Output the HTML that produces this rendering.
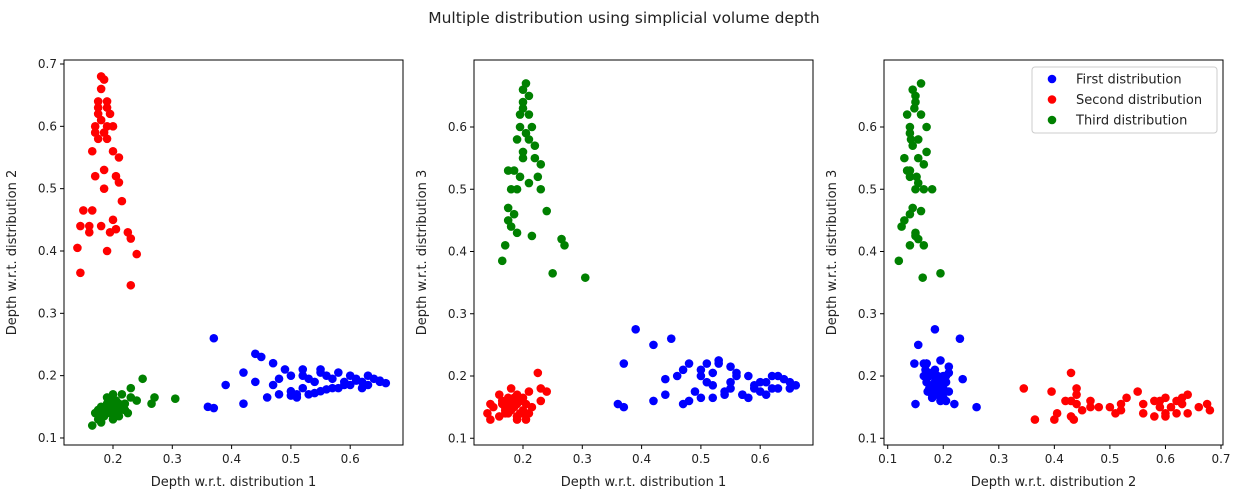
<!DOCTYPE html>
<html><head><meta charset="utf-8"><style>
body{margin:0;background:#fff;font-family:"Liberation Sans","DejaVu Sans",sans-serif}
svg text{font-family:"DejaVu Sans","Liberation Sans",sans-serif;fill:#222}
</style></head><body>
<svg id="c" width="1241" height="498">
<text x="624" y="23" text-anchor="middle" font-size="15.5">Multiple distribution using simplicial volume depth</text>
</svg>
<script>
const blueD1=[0.37,0.36,0.37,0.39,0.42,0.42,0.44,0.45,0.44,0.46,0.47,0.48,0.49,0.5,0.51,0.52,0.53,0.54,0.55,0.55,0.56,0.57,0.58,0.59,0.6,0.61,0.62,0.63,0.64,0.65,0.66,0.5,0.52,0.53,0.57,0.48,0.47,0.6,0.62,0.58,0.51,0.54,0.56,0.59,0.61,0.63,0.65,0.5,0.52,0.55];
const blueD2=[0.26,0.15,0.148,0.185,0.205,0.155,0.235,0.23,0.19,0.165,0.22,0.17,0.21,0.2,0.165,0.21,0.17,0.19,0.21,0.175,0.2,0.18,0.205,0.185,0.2,0.195,0.19,0.2,0.195,0.19,0.188,0.175,0.18,0.195,0.195,0.195,0.185,0.185,0.18,0.18,0.17,0.172,0.178,0.19,0.192,0.185,0.192,0.168,0.2,0.205];
const blueD3=[0.15,0.155,0.22,0.275,0.16,0.25,0.195,0.26,0.17,0.2,0.155,0.22,0.175,0.165,0.22,0.205,0.22,0.17,0.215,0.18,0.2,0.17,0.2,0.18,0.175,0.19,0.2,0.18,0.195,0.19,0.185,0.2,0.185,0.225,0.17,0.16,0.21,0.19,0.18,0.165,0.19,0.175,0.205,0.185,0.17,0.2,0.18,0.21,0.165,0.19];
const redD1=[0.145,0.14,0.145,0.15,0.16,0.165,0.17,0.165,0.17,0.175,0.18,0.18,0.185,0.19,0.19,0.185,0.18,0.195,0.2,0.205,0.2,0.195,0.175,0.21,0.205,0.215,0.225,0.23,0.24,0.23,0.17,0.19,0.2,0.185,0.175,0.21,0.16,0.19,0.18,0.19,0.175,0.185];
const redD2=[0.365,0.405,0.44,0.465,0.43,0.465,0.52,0.56,0.6,0.62,0.66,0.68,0.675,0.64,0.58,0.5,0.44,0.43,0.45,0.52,0.6,0.62,0.63,0.55,0.435,0.48,0.43,0.42,0.395,0.345,0.59,0.6,0.56,0.53,0.58,0.51,0.44,0.4,0.61,0.63,0.64,0.59];
const redD3=[0.13,0.14,0.155,0.15,0.135,0.16,0.145,0.155,0.14,0.16,0.15,0.145,0.155,0.17,0.135,0.15,0.18,0.16,0.145,0.155,0.165,0.14,0.165,0.175,0.13,0.15,0.205,0.16,0.175,0.18,0.15,0.135,0.14,0.165,0.16,0.14,0.17,0.13,0.15,0.155,0.14,0.16];
const greenD1=[0.165,0.17,0.175,0.18,0.175,0.185,0.19,0.195,0.2,0.2,0.205,0.21,0.21,0.215,0.22,0.22,0.23,0.225,0.23,0.215,0.24,0.25,0.265,0.27,0.305,0.19,0.2,0.185,0.18,0.195,0.205,0.21,0.19,0.175,0.2,0.2,0.21,0.195];
const greenD2=[0.12,0.14,0.13,0.15,0.145,0.135,0.155,0.14,0.15,0.145,0.16,0.15,0.135,0.17,0.145,0.155,0.165,0.14,0.18,0.15,0.16,0.195,0.155,0.165,0.163,0.165,0.13,0.14,0.125,0.16,0.14,0.155,0.15,0.14,0.17,0.148,0.142,0.152];
const greenD3=[0.385,0.41,0.45,0.5,0.47,0.53,0.58,0.6,0.64,0.66,0.67,0.65,0.62,0.6,0.57,0.55,0.54,0.52,0.5,0.425,0.465,0.365,0.42,0.41,0.358,0.5,0.55,0.46,0.44,0.62,0.59,0.51,0.43,0.53,0.56,0.63,0.58,0.52];
const xTicks1=[0.2,0.3,0.4,0.5,0.6];
const xTicks3=[0.1,0.2,0.3,0.4,0.5,0.6,0.7];
const yTicks1=[0.1,0.2,0.3,0.4,0.5,0.6,0.7];
const yTicks2=[0.1,0.2,0.3,0.4,0.5,0.6];
const NS='http://www.w3.org/2000/svg';
const svg=document.getElementById('c');
function mk(t,a,p){const e=document.createElementNS(NS,t);for(const k in a)e.setAttribute(k,a[k]);(p||svg).appendChild(e);return e;}
const panels=[
 {L:64,R:403,x0:0.2,px0:113,sx:593,y0:0.7,py0:64,sy:623.3,xs:[redD1,blueD1,greenD1],ys:[redD2,blueD2,greenD2],xt:xTicks1,yt:yTicks1,xl:'Depth w.r.t. distribution 1',yl:'Depth w.r.t. distribution 2'},
 {L:474,R:813,x0:0.2,px0:523,sx:593,y0:0.6,py0:127,sy:622.5,xs:[redD1,blueD1,greenD1],ys:[redD3,blueD3,greenD3],xt:xTicks1,yt:yTicks2,xl:'Depth w.r.t. distribution 1',yl:'Depth w.r.t. distribution 3'},
 {L:884,R:1223,x0:0.1,px0:887.7,sx:555.5,y0:0.6,py0:127,sy:622.5,xs:[blueD2,redD2,greenD2],ys:[blueD3,redD3,greenD3],xt:xTicks3,yt:yTicks2,xl:'Depth w.r.t. distribution 2',yl:'Depth w.r.t. distribution 3'}
];
const T=60,B=445;
panels.forEach((p,pi)=>{
 const g=mk('g',{});
 
 
 const X=v=>p.px0+(v-p.x0)*p.sx, Y=v=>p.py0+(p.y0-v)*p.sy;
 const series=pi===2?[['blue',0],['red',1],['green',2]]:[['red',0],['blue',1],['green',2]];
 series.forEach(([c,i])=>{
  const xs=p.xs[i],ys=p.ys[i];
  xs.forEach((v,k)=>{const d=mk('circle',{cx:X(v),cy:Y(ys[k]),r:4.3,fill:c},g);
   
   });
 });
 const fr=mk('rect',{x:p.L,y:T,width:p.R-p.L,height:B-T,fill:'none',stroke:'#000','stroke-width':1},g);
 
 
 p.xt.forEach(v=>{const x=X(v);mk('line',{x1:x,x2:x,y1:B,y2:B+4,stroke:'#000'},g);
  const t=mk('text',{x:x,y:B+18,'text-anchor':'middle','font-size':12},g);t.textContent=v.toFixed(1);
  
  });
 p.yt.forEach(v=>{const y=Y(v);mk('line',{x1:p.L-4,x2:p.L,y1:y,y2:y,stroke:'#000'},g);
  const t=mk('text',{x:p.L-7,y:y+4,'text-anchor':'end','font-size':12},g);t.textContent=v.toFixed(1);
  
  });
 const xl=mk('text',{x:(p.L+p.R)/2,y:486,'text-anchor':'middle','font-size':13},g);xl.textContent=p.xl;
 
 
 const yx=p.L-48;
 const yl=mk('text',{x:yx,y:(T+B)/2,'text-anchor':'middle','font-size':13,transform:`rotate(-90 ${yx} ${(T+B)/2})`},g);yl.textContent=p.yl;
 
 
});
const lg=mk('g',{});


mk('rect',{x:1032,y:67,width:185,height:66,rx:3,fill:'#fff',stroke:'#ccc'},lg);
[['First distribution','blue'],['Second distribution','red'],['Third distribution','green']].forEach(([n,c],i)=>{
 const y=79+i*20.5;
 const e=mk('g',{},lg);
 
 
 mk('circle',{cx:1052,cy:y,r:4.3,fill:c},e);
 const t=mk('text',{x:1076,y:y+4.5,'font-size':13},e);t.textContent=n;
});
</script>
</body></html>
